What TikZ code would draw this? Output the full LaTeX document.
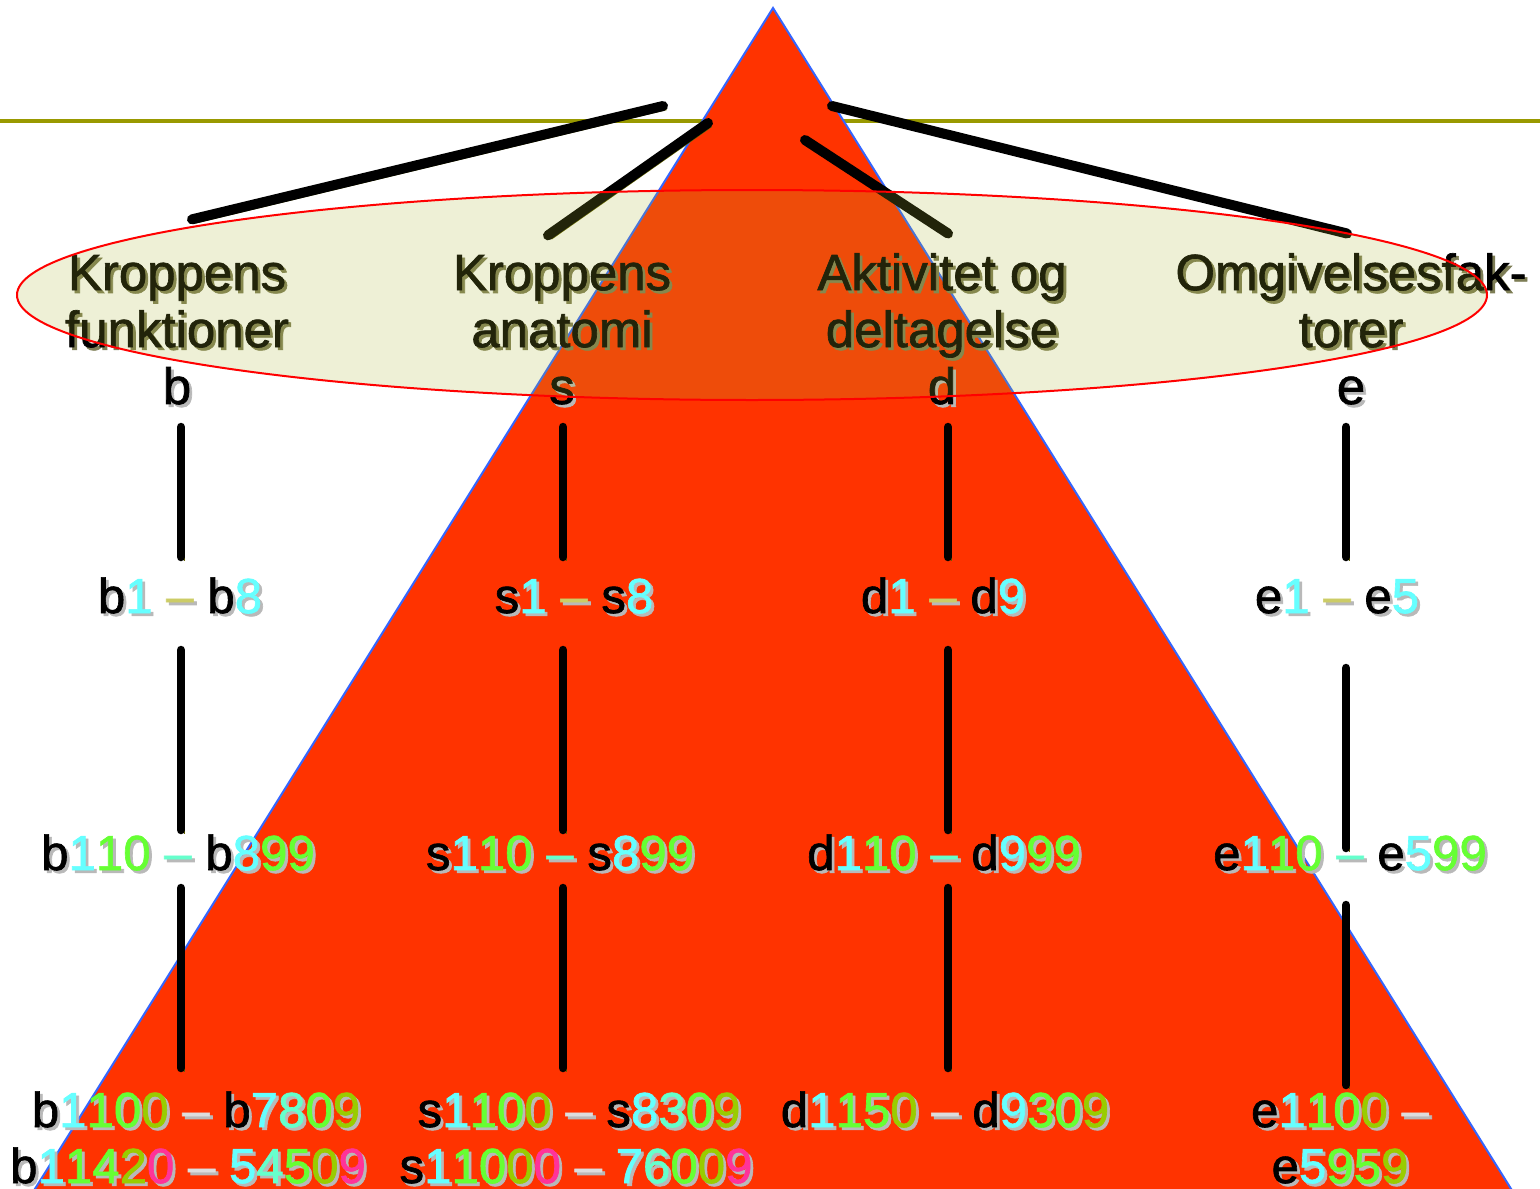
\documentclass[tikz,border=0pt]{standalone}
\usepackage{fontspec}
\setmainfont{Liberation Sans}[FakeBold=1.3]
\usetikzlibrary{calc}
\definecolor{tri-red}{RGB}{255,51,0}
\definecolor{tri-edge}{RGB}{51,102,255}
\definecolor{rule-olive}{RGB}{153,153,0}
\definecolor{oval-fill}{RGB}{170,180,50}
\definecolor{oval-edge}{RGB}{255,0,0}
\definecolor{link-shadow}{RGB}{102,102,0}
\definecolor{head-shadow}{RGB}{125,125,85}
\definecolor{code-shadow}{RGB}{185,185,185}
\definecolor{code-cyan}{RGB}{102,255,255}
\definecolor{code-green}{RGB}{102,255,51}
\definecolor{code-olive}{RGB}{153,204,0}
\definecolor{code-pink}{RGB}{255,51,153}
\definecolor{code-aqua}{RGB}{102,255,204}
\definecolor{code-khaki}{RGB}{204,204,102}
\definecolor{code-grey}{RGB}{221,221,221}
% text with a small drop shadow
\newcommand{\shadowed}[3]{\makebox[0pt][l]{\kern0.8pt\raisebox{-0.8pt}{\color{#1}#3}}{\color{#2}#3}}
\newcommand{\hd}[1]{\shadowed{head-shadow}{black}{#1}}
\newcommand{\blk}[1]{\shadowed{code-shadow}{black}{#1}}
\newcommand{\cyn}[1]{\shadowed{code-shadow}{code-cyan}{#1}}
\newcommand{\grn}[1]{\shadowed{code-shadow}{code-green}{#1}}
\newcommand{\olv}[1]{\shadowed{code-shadow}{code-olive}{#1}}
\newcommand{\pnk}[1]{\shadowed{code-shadow}{code-pink}{#1}}
\newcommand{\aqu}[1]{\shadowed{code-shadow}{code-aqua}{#1}}
\newcommand{\kha}[1]{\shadowed{code-shadow}{code-khaki}{#1}}
\newcommand{\lgr}[1]{\shadowed{code-shadow}{code-grey}{#1}}
\tikzset{
  head/.style={font=\fontsize{14.5}{16.2}\selectfont, align=center, inner sep=0pt, anchor=south},
  code/.style={font=\fontsize{14}{16}\selectfont, inner sep=0pt, anchor=base},
  link/.style={line width=0.85mm, line cap=round, preaction={draw=link-shadow, transform canvas={xshift=0.35mm, yshift=-0.35mm}}},
  branch/.style={link, line width=1mm},
  oval/.style={fill=oval-fill, fill opacity=0.2, draw=oval-edge, line width=0.2mm}
}

\begin{document}
\begin{tikzpicture}[x=0.1mm, y=-0.1mm]
    \useasboundingbox (0,0) rectangle (1540,1188);
    \clip (0,0) rectangle (1540,1188);

    % Olive rule behind the pyramid
    \draw[rule-olive, line width=0.4mm] (0,121) -- (1540,121);

    % Pyramid
    \fill[tri-red] (773,8) -- (28,1200) -- (1518,1200) -- cycle;
    \draw[tri-edge, line width=0.2mm] (28,1200) -- (773,8) -- (1518,1200);

    % Column axes
    \coordinate (bx) at (181,0);
    \coordinate (sx) at (563,0);
    \coordinate (dx) at (948,0);
    \coordinate (ex) at (1346,0);

    % Components
    \node[head] (b0) at (177,408) {\hd{Kroppens}\\\hd{funktioner}\\\blk{b}};
    \node[head] (s0) at (562,408) {\hd{Kroppens}\\\hd{anatomi}\\\blk{s}};
    \node[head] (d0) at (942,408) {\hd{Aktivitet og}\\\hd{deltagelse}\\\blk{d}};
    \node[head] (e0) at (1351,408) {\hd{Omgivelsesfak-}\\\hd{torer}\\\blk{e}};

    % Branches from the top
    \coordinate (kb) at (663,106);
    \coordinate (ks) at (708,123);
    \coordinate (kd) at (805,140);
    \coordinate (ke) at (832,106);
    \draw[branch] (kb) -- ($(b0.north)+(15,-35)$);
    \draw[branch] (ks) -- ($(s0.north)+(-14,-19)$);
    \draw[branch] (kd) -- ($(d0.north)+(6,-19)$);
    \draw[branch] (ke) -- ($(e0.north)+(-4,-19)$);

    % Oval round the components
    \draw[oval] (752,295) ellipse [x radius=73.5mm, y radius=10.5mm];

    % Chapter level
    \node[code] (b1) at (180,613) {\blk{b}\cyn{1} \kha{–} \blk{b}\cyn{8}};
    \node[code] (s1) at (574,613) {\blk{s}\cyn{1} \kha{–} \blk{s}\cyn{8}};
    \node[code] (d1) at (943,613) {\blk{d}\cyn{1} \kha{–} \blk{d}\cyn{9}};
    \node[code] (e1) at (1337,613) {\blk{e}\cyn{1} \kha{–} \blk{e}\cyn{5}};

    % Second level
    \node[code] (b2) at (178,870) {\blk{b}\cyn{1}\grn{10} \aqu{–} \blk{b}\cyn{8}\grn{99}};
    \node[code] (s2) at (560,870) {\blk{s}\cyn{1}\grn{10} \aqu{–} \blk{s}\cyn{8}\grn{99}};
    \node[code] (d2) at (944,870) {\blk{d}\cyn{1}\grn{10} \aqu{–} \blk{d}\cyn{9}\grn{99}};
    \node[code] (e2) at (1350,870) {\blk{e}\cyn{1}\grn{10} \aqu{–} \blk{e}\cyn{5}\grn{99}};

    % Third and fourth level
    \node[code] (b3) at (196,1127) {\blk{b}\cyn{1}\grn{10}\olv{0} \lgr{–} \blk{b}\cyn{7}\aqu{8}\grn{0}\olv{9}};
    \node[code] (b4) at (188,1183) {\blk{b}\cyn{1}\grn{14}\olv{2}\pnk{0} \lgr{–} \cyn{5}\aqu{4}\grn{5}\olv{0}\pnk{9}};
    \node[code] (s3) at (579,1127) {\blk{s}\cyn{1}\grn{10}\olv{0} \lgr{–} \blk{s}\cyn{8}\aqu{3}\grn{0}\olv{9}};
    \node[code] (s4) at (576,1183) {\blk{s}\cyn{1}\grn{10}\olv{0}\pnk{0} \lgr{–} \cyn{7}\aqu{6}\grn{0}\olv{0}\pnk{9}};
    \node[code] (d3) at (945,1127) {\blk{d}\cyn{1}\grn{15}\olv{0} \lgr{–} \blk{d}\cyn{9}\grn{30}\olv{9}};
    \node[code] (e3) at (1340,1127) {\blk{e}\cyn{1}\grn{10}\olv{0} \lgr{–}};
    \node[code] (e4) at (1340,1183) {\blk{e}\cyn{5}\grn{95}\olv{9}};

    % Links down each column
    \foreach \col in {b,s,d} {
        \draw[link] ($(\col0.south -| \col x)+(0,19)$) -- ($(\col1.base -| \col x)+(0,-56)$);
        \draw[link] ($(\col1.base -| \col x)+(0,37)$) -- ($(\col2.base -| \col x)+(0,-40)$);
        \draw[link] ($(\col2.base -| \col x)+(0,18)$) -- ($(\col3.base -| \col x)+(0,-59)$);
    }
    \draw[link] ($(e0.south -| ex)+(0,19)$) -- ($(e1.base -| ex)+(0,-56)$);
    \draw[link] ($(e1.base -| ex)+(0,55)$) -- ($(e2.base -| ex)+(0,-22)$);
    \draw[link] ($(e2.base -| ex)+(0,35)$) -- ($(e3.base -| ex)+(0,-42)$);
\end{tikzpicture}
\end{document}
